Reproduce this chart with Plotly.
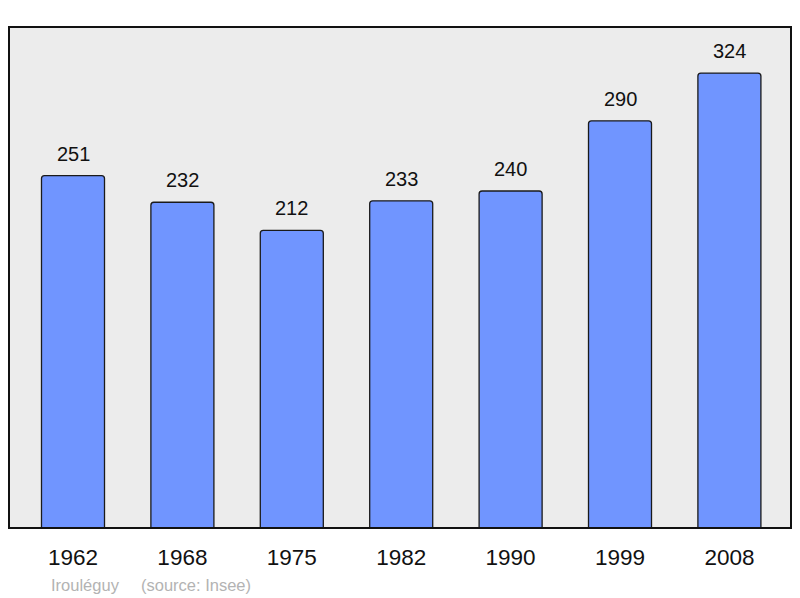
import plotly.graph_objects as go

years = ["1962", "1968", "1975", "1982", "1990", "1999", "2008"]
population = [251, 232, 212, 233, 240, 290, 324]
commune = "Irouléguy"
source = "(source: Insee)"

xpos = list(range(len(years)))

# page body has an 8px margin: figure origin lands at (8, 8) in the window
OFF = 8
W, H = 800 - OFF, 598 - OFF
L, T, R, B = 9 - OFF, 27 - OFF, 791 - OFF, 528 - OFF
plot_w, plot_h = R - L, B - T

fig = go.Figure()
fig.add_trace(go.Bar(
    x=xpos, y=population, width=0.576,
    marker=dict(color="#7095ff", line=dict(color="#1a1a1a", width=1.3), cornerradius=3),
    hoverinfo="skip",
))

annotations = [
    dict(x=x, y=v, xref="x", yref="y", text=str(v), showarrow=False,
         yanchor="bottom", yshift=9, font=dict(size=20, color="#111111"))
    for x, v in zip(xpos, population)
]
annotations += [
    dict(text=commune, xref="paper", yref="paper",
         x=(49 - 9) / plot_w, y=-(585 - 528) / plot_h, xanchor="left", yanchor="middle",
         showarrow=False, font=dict(size=16.5, color="#b3b3b3")),
    dict(text=source, xref="paper", yref="paper",
         x=(139 - 9) / plot_w, y=-(585 - 528) / plot_h, xanchor="left", yanchor="middle",
         showarrow=False, font=dict(size=16.5, color="#b3b3b3")),
]

fig.update_layout(
    width=W, height=H,
    margin=dict(l=L, r=W - R, t=T, b=H - B),
    paper_bgcolor="white", plot_bgcolor="#ececec",
    showlegend=False,
    font=dict(family="Liberation Sans"),
    xaxis=dict(range=[-0.585, 6.563], tickmode="array", tickvals=xpos, ticktext=years,
               showgrid=False, zeroline=False, ticks="outside", ticklen=9,
               tickcolor="rgba(0,0,0,0)", tickfont=dict(size=22.5, color="#111111"),
               showline=False, fixedrange=True),
    yaxis=dict(range=[0, 356.8], showgrid=False, zeroline=False, showticklabels=False,
               showline=False, fixedrange=True),
    shapes=[dict(type="rect", xref="paper", yref="paper", x0=0, x1=1, y0=0, y1=1,
                 line=dict(color="#111111", width=2), layer="above")],
    annotations=annotations,
)

fig.write_html("out.html")
